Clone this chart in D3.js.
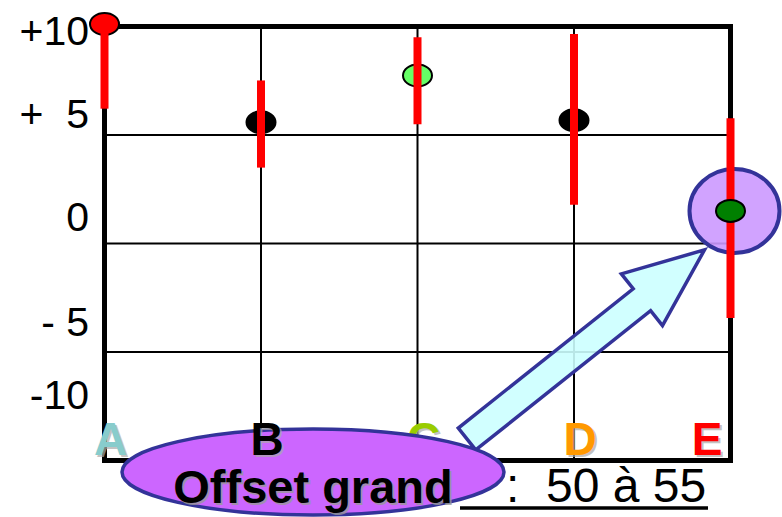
<!DOCTYPE html>
<html>
<head>
<meta charset="utf-8">
<script src="https://cdn.jsdelivr.net/npm/d3@7"></script>
<style>
  html, body { margin: 0; padding: 0; background: #fff; }
  svg { display: block; font-family: Arial, "Liberation Sans", sans-serif; }
</style>
</head>
<body>
<svg id="chart" width="782" height="517"></svg>
<script>
// chart data
const categories = ["A", "B", "C", "D", "E"];
const categoryColors = ["#88cccc", "#000000", "#99cc00", "#ff9900", "#ff0000"];
const offsets = [10.3, 4.5, 7.2, 4.6, 0.2];
const rangeHigh = [10.3, 6.9, 9.5, 9.7, 4.7];
const rangeLow = [5.2, 2.3, 4.4, 0.5, -4.9];
const pointColors = ["#ff0000", "#000000", "#66ff66", "#000000", "#008000"];
const tickValues = [10, 5, 0, -5, -10];
const tickLabels = ["+10", "+  5", "0", "- 5", "-10"];
const highlighted = "E";
const labelsOverCallout = ["B"];
const calloutText = "Offset grand";
const rangeText = ":  50 à 55";

const data = categories.map((c, i) => ({
  cat: c, value: offsets[i], hi: rangeHigh[i], lo: rangeLow[i],
  color: pointColors[i], labelColor: categoryColors[i], index: i
}));

const svg = d3.select("#chart");

const frame = { left: 104.5, right: 730.5, top: 26.5, bottom: 460.5 };
const x = d3.scalePoint().domain(categories).range([frame.left, frame.right]);
// hand drawn axis: labels are not evenly spaced, so a polylinear scale
const y = d3.scaleLinear().domain(tickValues).range([29, 112, 215, 320, 393]);
const rows = d3.scaleLinear().domain([0, 4]).range([frame.top, frame.bottom]);

// grid
const grid = svg.append("g").attr("stroke", "#000").attr("stroke-width", 2);
grid.selectAll(".vline")
  .data(categories.slice(1, -1))
  .join("line")
  .attr("x1", d => x(d)).attr("x2", d => x(d))
  .attr("y1", frame.top).attr("y2", frame.bottom);
grid.selectAll(".hline")
  .data([1, 2, 3])
  .join("line")
  .attr("x1", frame.left).attr("x2", frame.right)
  .attr("y1", d => rows(d)).attr("y2", d => rows(d));

svg.append("rect")
  .attr("x", frame.left).attr("y", frame.top)
  .attr("width", frame.right - frame.left)
  .attr("height", frame.bottom - frame.top)
  .attr("fill", "none").attr("stroke", "#000").attr("stroke-width", 5);

// y labels
svg.append("g").selectAll("text")
  .data(tickValues)
  .join("text")
  .attr("x", 89)
  .attr("y", d => y(d))
  .attr("dy", "0.38em")
  .attr("text-anchor", "end")
  .attr("font-size", 41)
  .style("white-space", "pre")
  .text((d, i) => tickLabels[i]);

// category labels
function drawLabels(g, rowsData) {
  const lab = g.selectAll("g").data(rowsData).join("g");
  const posX = d => d.index === categories.length - 1 ? x(d.cat) - 8 : x(d.cat) + 6;
  const anchor = d => d.index === categories.length - 1 ? "end" : "middle";
  lab.append("text")
    .attr("x", d => posX(d) + 2).attr("y", 457)
    .attr("text-anchor", anchor)
    .attr("font-size", 46).attr("font-weight", "bold")
    .attr("fill", "#aaa").attr("opacity", 0.7)
    .text(d => d.cat);
  lab.append("text")
    .attr("x", posX).attr("y", 455)
    .attr("text-anchor", anchor)
    .attr("font-size", 46).attr("font-weight", "bold")
    .attr("fill", d => d.labelColor)
    .text(d => d.cat);
}
drawLabels(svg.append("g"), data.filter(d => !labelsOverCallout.includes(d.cat)));

// halo around highlighted point
const hl = data.find(d => d.cat === highlighted);
svg.append("ellipse")
  .attr("cx", x(hl.cat) + 4).attr("cy", y(hl.value))
  .attr("rx", 45).attr("ry", 42)
  .attr("fill", "#cc99ff").attr("fill-opacity", 0.9)
  .attr("stroke", "#333399").attr("stroke-width", 4);

// points
function drawPoints(g, pts) {
  g.selectAll("ellipse")
    .data(pts)
    .join("ellipse")
    .attr("cx", d => x(d.cat)).attr("cy", d => y(d.value))
    .attr("rx", 14.5).attr("ry", 11)
    .attr("fill", d => d.color)
    .attr("stroke", "#000").attr("stroke-width", 2);
}
drawPoints(svg.append("g"), data.filter(d => d.cat !== highlighted));

// range bars
svg.append("g").selectAll("line")
  .data(data)
  .join("line")
  .attr("x1", d => x(d.cat)).attr("x2", d => x(d.cat))
  .attr("y1", d => y(d.hi)).attr("y2", d => y(d.lo))
  .attr("stroke", "#ff0000").attr("stroke-width", 8);

drawPoints(svg.append("g"), [hl]);

// callout
const callout = { cx: 313, cy: 472, rx: 191, ry: 43 };

// underlined range text
svg.append("line")
  .attr("x1", 460).attr("x2", 708)
  .attr("y1", 508).attr("y2", 508)
  .attr("stroke", "#000").attr("stroke-width", 3.5);
svg.append("text")
  .attr("x", 506).attr("y", 502)
  .attr("font-size", 48)
  .style("white-space", "pre")
  .text(rangeText);

// arrow from callout to highlighted point
const tail = [callout.cx + 154, callout.cy - 33];
const tip = [x(hl.cat) - 26, y(hl.value) + 39];
const shaftW = 28, headW = 66, headL = 80;
const len = Math.hypot(tip[0] - tail[0], tip[1] - tail[1]);
const u = [(tip[0] - tail[0]) / len, (tip[1] - tail[1]) / len];
const n = [-u[1], u[0]];
const neck = [tip[0] - u[0] * headL, tip[1] - u[1] * headL];
const off = (p, k) => [p[0] + n[0] * k, p[1] + n[1] * k];
const arrowPts = [
  off(tail, shaftW / 2), off(neck, shaftW / 2), off(neck, headW / 2), tip,
  off(neck, -headW / 2), off(neck, -shaftW / 2), off(tail, -shaftW / 2)
];
svg.append("path")
  .attr("d", d3.line()(arrowPts) + "Z")
  .attr("fill", "#ccffff").attr("fill-opacity", 0.9)
  .attr("stroke", "#333399").attr("stroke-width", 3.5)
  .attr("stroke-linejoin", "miter");

svg.append("ellipse")
  .attr("cx", callout.cx).attr("cy", callout.cy)
  .attr("rx", callout.rx).attr("ry", callout.ry)
  .attr("fill", "#cc66ff")
  .attr("stroke", "#333399").attr("stroke-width", 3.5);

svg.append("text")
  .attr("x", callout.cx + 2).attr("y", 505)
  .attr("text-anchor", "middle")
  .attr("font-size", 47).attr("font-weight", "bold")
  .attr("fill", "#999").attr("opacity", 0.8)
  .text(calloutText);
svg.append("text")
  .attr("x", callout.cx).attr("y", 503)
  .attr("text-anchor", "middle")
  .attr("font-size", 47).attr("font-weight", "bold")
  .attr("fill", "#000")
  .text(calloutText);

drawLabels(svg.append("g"), data.filter(d => labelsOverCallout.includes(d.cat)));
</script>
</body>
</html>
